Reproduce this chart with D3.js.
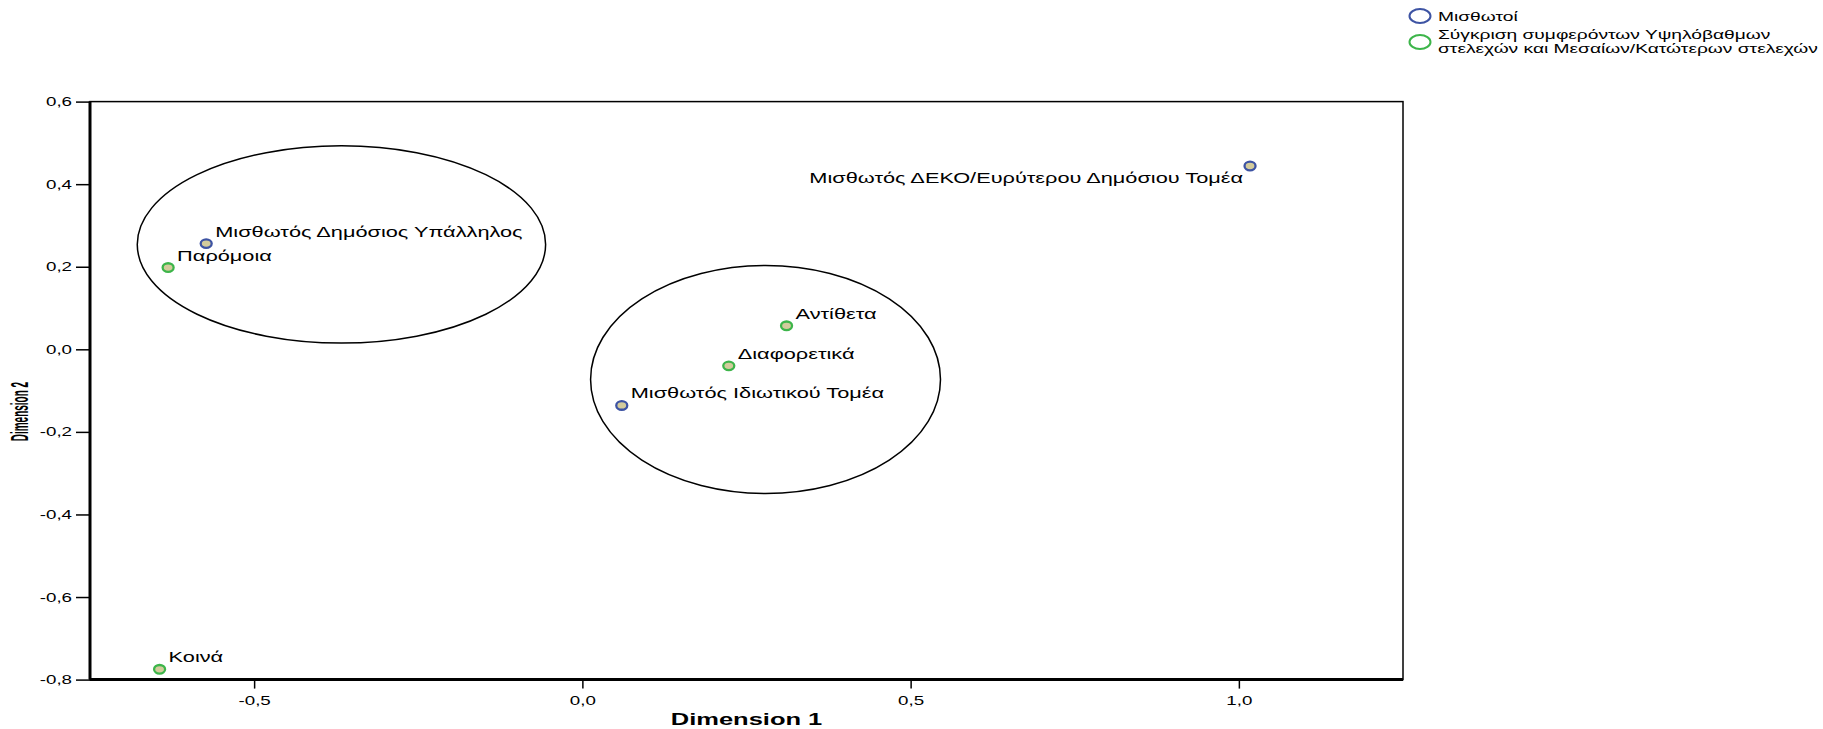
<!DOCTYPE html>
<html><head><meta charset="utf-8">
<script src="https://cdn.jsdelivr.net/npm/d3@7"></script>
<style>body{margin:0;background:#fff}svg{display:block}</style></head>
<body><svg id="c" width="1823" height="729"></svg>
<script>
// ---- data ----
const pointLabels = ["Μισθωτός Δημόσιος Υπάλληλος","Μισθωτός Ιδιωτικού Τομέα","Μισθωτός ΔΕΚΟ/Ευρύτερου Δημόσιου Τομέα","Παρόμοια","Διαφορετικά","Αντίθετα","Κοινά"];
const pointGroup = [0,0,0,1,1,1,1];
const dim1 = [-0.573,0.060,1.017,-0.631,0.223,0.311,-0.644];
const dim2 = [0.256,-0.136,0.444,0.198,-0.040,0.057,-0.775];
const labelSide = ["right","right","left","right","right","right","right"];
const seriesNames = ["Μισθωτοί","Σύγκριση συμφερόντων Υψηλόβαθμων|στελεχών και Μεσαίων/Κατώτερων στελεχών"];
const xTicks = [-0.5,0,0.5,1.0];
const yTicks = [-0.8,-0.6,-0.4,-0.2,0,0.2,0.4,0.6];
const ellipseCx = [-0.367,0.279];
const ellipseCy = [0.254,-0.073];
const ellipseRx = [0.311,0.2665];
const ellipseRy = [0.239,0.276];

// ---- style ----
const S = 1.5; // horizontal stretch of text
const FONT = "'Liberation Sans', Arial, sans-serif";
const strokeCol = ["#3d53a3","#3db54a"];
const fillCol = "#d3cb9c";
const fmt = v => d3.format(".1f")(v).replace(".", ",").replace("−","-");

const svg = d3.select("#c");
const x = d3.scaleLinear().domain([-0.75,1.25]).range([90,1403]);
const y = d3.scaleLinear().domain([-0.8,0.6]).range([679.6,101.6]);

function stretchText(sel){
  sel.each(function(){
    const t = d3.select(this);
    const tx = +t.attr("x")||0;
    t.attr("transform", `translate(${tx},0) scale(${S},1) translate(${-tx},0)`);
  });
}

// frame
svg.append("rect").attr("x",x(-0.75)).attr("y",y(0.6))
  .attr("width",x(1.25)-x(-0.75)).attr("height",y(-0.8)-y(0.6))
  .attr("fill","none").attr("stroke","#000").attr("stroke-width",1.5);

// axes
const gy = svg.append("g").attr("transform",`translate(${x(-0.75)},0)`)
  .call(d3.axisLeft(y).tickValues(yTicks).tickSize(14).tickPadding(4).tickFormat(fmt));
const gx = svg.append("g").attr("transform",`translate(0,${y(-0.8)})`)
  .call(d3.axisBottom(x).tickValues(xTicks).tickSize(9).tickPadding(8).tickFormat(fmt));
[gy,gx].forEach(g=>{
  g.select(".domain").attr("stroke","#000").attr("stroke-width",3);
  g.selectAll(".tick line").attr("stroke","#000").attr("stroke-width",1.5);
  g.selectAll(".tick text").attr("font-family",FONT).attr("font-size",12.5).attr("fill","#000");
  g.selectAll(".tick text").call(stretchText);
});
gy.select(".domain").attr("d",`M0,${y(0.6)}V${y(-0.8)}`);
gx.select(".domain").attr("d",`M${x(-0.75)},0H${x(1.25)}`);

// axis titles
svg.append("text").attr("font-family",FONT).attr("font-weight","bold").attr("font-size",17)
  .attr("text-anchor","middle")
  .attr("transform",`translate(${(x(-0.75)+x(1.25))/2},725) scale(${S},1)`)
  .text("Dimension 1");
svg.append("text").attr("font-family",FONT).attr("font-weight","bold").attr("font-size",10)
  .attr("text-anchor","middle")
  .attr("transform",`translate(28,${(y(0.6)+y(-0.8))/2 + 21}) scale(2.3,1) rotate(-90)`)
  .text("Dimension 2");

// ellipses
svg.append("g").selectAll("ellipse").data(ellipseCx).join("ellipse")
  .attr("cx",(d,i)=>x(ellipseCx[i])).attr("cy",(d,i)=>y(ellipseCy[i]))
  .attr("rx",(d,i)=>x(ellipseRx[i])-x(0)).attr("ry",(d,i)=>y(0)-y(ellipseRy[i]))
  .attr("fill","none").attr("stroke","#000").attr("stroke-width",1.5);

// points
const pts = d3.range(pointLabels.length);
svg.append("g").selectAll("ellipse").data(pts).join("ellipse")
  .attr("cx",i=>x(dim1[i])).attr("cy",i=>y(dim2[i]))
  .attr("rx",5.5).attr("ry",4.3)
  .attr("fill",fillCol).attr("stroke",i=>strokeCol[pointGroup[i]]).attr("stroke-width",2.3);

// labels
svg.append("g").selectAll("text").data(pts).join("text")
  .attr("font-family",FONT).attr("font-size",14.5).attr("fill","#000")
  .attr("text-anchor",i=>labelSide[i]==="left"?"end":"start")
  .attr("transform",i=>{
    const px = x(dim1[i]) + (labelSide[i]==="left"?-7:9);
    const py = y(dim2[i]) + (labelSide[i]==="left"?17:-7);
    return `translate(${px},${py}) scale(${S},1)`;
  })
  .text(i=>pointLabels[i]);

// legend
const lg = svg.append("g");
const legY = [16, 42];
seriesNames.forEach((name,i)=>{
  lg.append("ellipse").attr("cx",1420).attr("cy",legY[i]).attr("rx",10.5).attr("ry",7)
    .attr("fill","none").attr("stroke",strokeCol[i]).attr("stroke-width",2);
  const lines = name.split("|");
  lines.forEach((ln,j)=>{
    const by = (lines.length===1? legY[i]+5 : legY[i]-3.5 + j*14.5);
    lg.append("text").attr("font-family",FONT).attr("font-size",12.8).attr("fill","#000")
      .attr("transform",`translate(1438,${by}) scale(${S},1)`).text(ln);
  });
});
</script></body></html>
